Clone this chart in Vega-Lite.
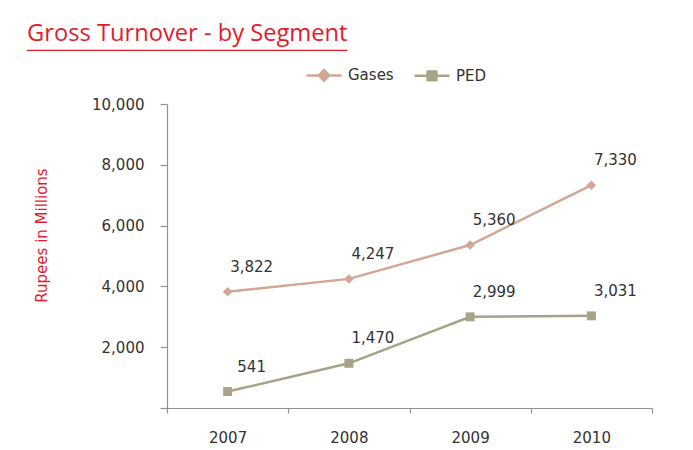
{
  "$schema": "https://vega.github.io/schema/vega-lite/v6.json",
  "width": 485,
  "height": 304,
  "autosize": "none",
  "padding": {"left": 167, "top": 104, "right": 41, "bottom": 42},
  "background": "white",
  "config": {"view": {"stroke": null}},
  "title": {
    "text": "Gross Turnover - by Segment",
    "subtitle": "──────────────────────────────────────",
    "anchor": "start",
    "frame": "group",
    "dx": -140,
    "offset": -2,
    "font": "Open Sans",
    "fontSize": 23.7,
    "fontWeight": "normal",
    "color": "#e41b2c",
    "subtitleFont": "DejaVu Sans Mono",
    "subtitleFontSize": 14,
    "subtitleColor": "#e41b2c",
    "subtitlePadding": -2
  },
  "data": {
    "values": [
      {"year": "2007", "series": "Gases", "value": 3822},
      {"year": "2008", "series": "Gases", "value": 4247},
      {"year": "2009", "series": "Gases", "value": 5360},
      {"year": "2010", "series": "Gases", "value": 7330},
      {"year": "2007", "series": "PED", "value": 541},
      {"year": "2008", "series": "PED", "value": 1470},
      {"year": "2009", "series": "PED", "value": 2999},
      {"year": "2010", "series": "PED", "value": 3031}
    ]
  },
  "encoding": {
    "x": {
      "field": "year",
      "type": "ordinal",
      "title": null,
      "scale": {"paddingInner": 0, "paddingOuter": 0},
      "axis": {
        "labelAngle": 0,
        "tickBand": "extent",
        "tickSize": 5,
        "labelPadding": 17,
        "labelFont": "DejaVu Sans",
        "labelFontSize": 15,
        "labelColor": "#333333",
        "domainColor": "#8a949c",
        "tickColor": "#8a949c",
        "domainWidth": 1.2,
        "tickWidth": 1.2
      }
    },
    "y": {
      "field": "value",
      "type": "quantitative",
      "scale": {"domain": [0, 10000], "nice": false},
      "title": "Rupees in Millions",
      "axis": {
        "values": [0, 2000, 4000, 6000, 8000, 10000],
        "labelExpr": "datum.value === 0 ? '' : datum.label",
        "format": ",d",
        "grid": false,
        "tickSize": 7,
        "labelPadding": 16,
        "labelFont": "DejaVu Sans",
        "labelFontSize": 15,
        "labelColor": "#333333",
        "domainColor": "#8a949c",
        "tickColor": "#8a949c",
        "domainWidth": 1.2,
        "tickWidth": 1.2,
        "titleFont": "DejaVu Sans",
        "titleFontSize": 15,
        "titleFontWeight": "normal",
        "titleColor": "#e41b2c",
        "titleAngle": -90,
        "titleX": -126,
        "titleY": 131,
        "titleAlign": "center",
        "titleBaseline": "middle"
      }
    },
    "color": {
      "field": "series",
      "type": "nominal",
      "scale": {"domain": ["Gases", "PED"], "range": ["#d2a794", "#a8a386"]},
      "legend": {
        "title": null,
        "orient": "none",
        "direction": "horizontal",
        "legendX": 138,
        "legendY": -48,
        "labelFont": "DejaVu Sans",
        "labelFontSize": 15,
        "labelColor": "#333333",
        "symbolSize": 1225,
        "symbolStrokeWidth": 2.5,
        "labelOffset": 5,
        "columnPadding": 15,
        "encode": {
          "symbols": {
            "update": {
              "shape": {"signal": "datum.value === 'Gases' ? 'M-1,0H1M0,-0.3L0.3,0L0,0.3L-0.3,0Z' : 'M-1,0H1M-0.25,-0.25H0.25V0.25H-0.25Z'"},
              "fill": {"signal": "datum.value === 'Gases' ? '#d2a794' : '#a8a386'"},
              "fillOpacity": {"value": 1}
            }
          }
        }
      }
    }
  },
  "layer": [
    {"mark": {"type": "line", "strokeWidth": 2.5}},
    {
      "transform": [{"filter": "datum.series === 'Gases'"}],
      "mark": {"type": "point", "shape": "diamond", "filled": true, "opacity": 1, "size": 90}
    },
    {
      "transform": [{"filter": "datum.series === 'PED'"}],
      "mark": {"type": "point", "shape": "square", "filled": true, "opacity": 1, "size": 80}
    },
    {
      "mark": {"type": "text", "dx": 24, "dy": -25, "font": "DejaVu Sans", "fontSize": 15, "color": "#333333"},
      "encoding": {
        "text": {"field": "value", "type": "quantitative", "format": ",d"},
        "color": {"value": "#333333"}
      }
    }
  ]
}
